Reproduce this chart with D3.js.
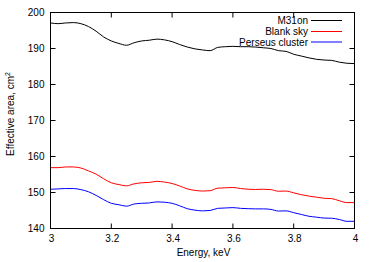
<!DOCTYPE html>
<html><head><meta charset="utf-8">
<script src="https://cdn.jsdelivr.net/npm/d3@7"></script>
<style>body{margin:0;background:#fff}svg{display:block;font-family:"Liberation Sans",Arial,sans-serif}</style>
</head><body>
<svg id="c" width="374" height="262"></svg>
<script>
const energy = d3.range(41).map(i => +(3 + i * 0.025).toFixed(3));
const m31on = [197.1,196.9,197.1,197.2,196.9,196.1,194.8,193.2,192.1,191.4,190.9,191.6,192.1,192.3,192.6,192.4,191.9,191.1,190.4,189.9,189.6,189.4,190.3,190.5,190.6,190.5,190.5,190.4,190.2,190.0,189.4,189.2,188.4,187.9,187.4,187.0,186.8,186.7,186.2,185.9,185.8];
const blankSky = [156.9,156.9,157.1,157.1,156.8,156.0,155.1,153.8,152.7,152.2,151.85,152.4,152.7,152.8,153.1,152.9,152.5,151.8,151.0,150.6,150.4,150.5,151.2,151.3,151.4,151.1,150.9,150.85,150.9,150.8,150.35,150.4,149.9,149.4,149.0,148.7,148.4,148.3,147.7,147.2,147.2];
const perseus = [150.9,151.0,151.1,151.1,150.8,150.2,149.2,148.0,147.0,146.6,146.2,146.8,147.0,147.1,147.4,147.3,147.0,146.3,145.5,145.1,144.9,145.0,145.6,145.7,145.8,145.6,145.5,145.45,145.45,145.3,144.85,144.9,144.4,143.9,143.4,143.15,142.9,142.85,142.5,142.0,142.0];
const seriesNames = ["M31on", "Blank sky", "Perseus cluster"];
const seriesColors = ["#000000", "#ff0000", "#0000ff"];
const xTicks = [3, 3.2, 3.4, 3.6, 3.8, 4];
const yTicks = [140, 150, 160, 170, 180, 190, 200];

const svg = d3.select("#c");
const L = 50.5, R = 354.5, T = 12.5, B = 228.5;
const x = d3.scaleLinear().domain([3, 4]).range([L, R]);
const y = d3.scaleLinear().domain([140, 200]).range([B, T]);

const fs = 10;
const tk = 5;
const g = svg.append("g").attr("stroke", "#000").attr("stroke-width", 1);
xTicks.forEach(v => {
  g.append("line").attr("x1", x(v)).attr("x2", x(v)).attr("y1", B).attr("y2", B - tk);
  g.append("line").attr("x1", x(v)).attr("x2", x(v)).attr("y1", T).attr("y2", T + tk);
});
yTicks.forEach(v => {
  g.append("line").attr("x1", L).attr("x2", L + tk).attr("y1", y(v)).attr("y2", y(v));
  g.append("line").attr("x1", R).attr("x2", R - tk).attr("y1", y(v)).attr("y2", y(v));
});

svg.append("g").selectAll("text").data(xTicks).join("text")
  .attr("x", d => x(d) + 1).attr("y", B + 13.5).attr("text-anchor", "middle")
  .attr("font-size", fs).attr("fill", "#000").text(d => d3.format("")(d));
svg.append("g").selectAll("text").data(yTicks).join("text")
  .attr("x", L - 6).attr("y", d => y(d) + 3.6).attr("text-anchor", "end")
  .attr("font-size", fs).attr("fill", "#000").text(d => d);

svg.append("text").attr("x", (L + R) / 2 + 1).attr("y", 256).attr("text-anchor", "middle")
  .attr("font-size", fs).text("Energy, keV");
const yl = svg.append("text").attr("transform", `translate(13.5,114) rotate(-90)`)
  .attr("text-anchor", "middle").attr("font-size", fs);
yl.append("tspan").text("Effective area, cm");
yl.append("tspan").attr("dy", -4).attr("font-size", 7).text("2");

const data = [m31on, blankSky, perseus];
const line = d3.line().x((d, i) => x(energy[i])).y(d => y(d)).curve(d3.curveMonotoneX);
data.forEach((s, k) => {
  svg.append("path").datum(s).attr("d", line).attr("fill", "none")
    .attr("stroke", seriesColors[k]).attr("stroke-width", 1);
});

const ly = [20.5, 31.5, 42];
seriesNames.forEach((n, k) => {
  svg.append("text").attr("x", 308).attr("y", ly[k] + 3.6).attr("text-anchor", "end")
    .attr("font-size", fs).text(n);
  svg.append("line").attr("x1", 311).attr("x2", 342).attr("y1", ly[k]).attr("y2", ly[k])
    .attr("stroke", seriesColors[k]).attr("stroke-width", 1);
});

svg.append("rect").attr("x", L).attr("y", T).attr("width", R - L).attr("height", B - T)
  .attr("fill", "none").attr("stroke", "#000").attr("stroke-width", 1);
</script>
</body></html>
